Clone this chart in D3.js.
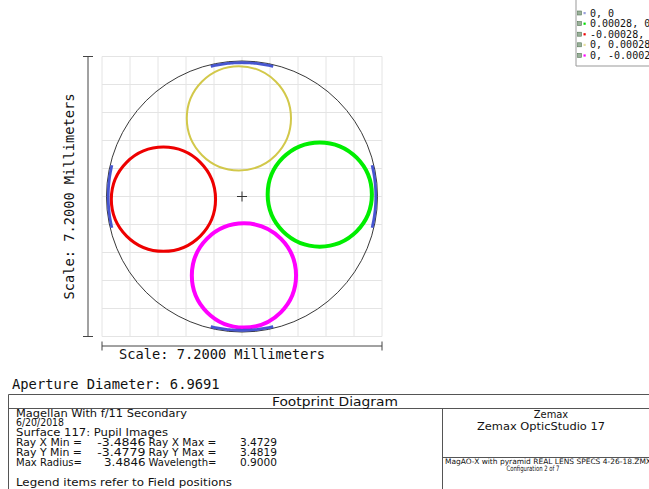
<!DOCTYPE html>
<html><head><meta charset="utf-8">
<script src="https://cdn.jsdelivr.net/npm/d3@7/dist/d3.min.js"></script>
<style>
html,body{margin:0;padding:0;background:#fff;}
svg{display:block;}
text{fill:#111;}
</style></head>
<body>
<svg id="c" width="649" height="489"></svg>
<script>
// ---- data ----
const fieldLabels = ["0, 0", "0.00028, 0", "-0.00028, 0", "0, 0.00028", "0, -0.00028"];
const fieldColors = ["#3344cc", "#00ee00", "#ee0000", "#d2c84a", "#ff00ff"];
const legendDotColors = ["#99a0dd", "#00dd00", "#ee0000", "#e8e0a0", "#ff00ff"];
// pupil footprint circles (mm) for the off-axis fields
const circleField = [1, 2, 3, 4];
const circleCx = [2.00, -2.02, -0.08, 0.05];
const circleCy = [0.05, -0.07, 2.01, -2.03];
const circleR = [1.34, 1.34, 1.34, 1.34];
const circleWidth = [4, 3, 2, 4];
// on-axis field footprint: short arcs near aperture edge (deg centre, half span)
const arcCentersDeg = [90, 0, 180, 270];
const arcHalfSpanDeg = [13.5, 13.5, 13.5, 13.5];
const arcRadius = 3.44;
const apertureRadius = 3.4846;
const scaleMm = 7.2;
const gridTicks = d3.range(-3.6, 3.61, 0.72);
const infoLeft = [
  "Magellan With f/11 Secondary",
  "6/20/2018",
  "Surface 117: Pupil Images"
];
const rayRows = [
  ["Ray X Min =", "-3.4846", "Ray X Max =", "3.4729"],
  ["Ray Y Min =", "-3.4779", "Ray Y Max =", "3.4819"],
  ["Max Radius=", "3.4846", "Wavelength=", "0.9000"]
];

const svg = d3.select("#c");
const cx0 = 242, cy0 = 196.5, half = 140;
const x = d3.scaleLinear().domain([-3.6, 3.6]).range([cx0 - half, cx0 + half]);
const y = d3.scaleLinear().domain([-3.6, 3.6]).range([cy0 + half, cy0 - half]);
const mono = "'DejaVu Sans Mono', monospace";
const cond = "'DejaVu Sans Condensed','DejaVu Sans', sans-serif";

// grid
const g = svg.append("g");
g.selectAll("line.v").data(gridTicks).join("line")
  .attr("x1", d => x(d)).attr("x2", d => x(d))
  .attr("y1", y(3.6)).attr("y2", y(-3.6))
  .attr("stroke", "#e4e4e4").attr("stroke-width", 1);
g.selectAll("line.h").data(gridTicks).join("line")
  .attr("y1", d => y(d)).attr("y2", d => y(d))
  .attr("x1", x(-3.6)).attr("x2", x(3.6))
  .attr("stroke", "#e4e4e4").attr("stroke-width", 1);

// aperture
g.append("circle").attr("cx", x(0)).attr("cy", y(0))
  .attr("r", x(apertureRadius) - x(0))
  .attr("fill", "none").attr("stroke", "#222").attr("stroke-width", 0.9);

// field circles
g.selectAll("circle.f").data(circleField).join("circle")
  .attr("cx", (d, i) => x(circleCx[i])).attr("cy", (d, i) => y(circleCy[i]))
  .attr("r", (d, i) => x(circleR[i]) - x(0))
  .attr("fill", "none")
  .attr("stroke", d => fieldColors[d])
  .attr("stroke-width", (d, i) => circleWidth[i]);

// on-axis arcs
const line = d3.line().x(d => x(arcRadius * Math.cos(d))).y(d => y(arcRadius * Math.sin(d)));
arcCentersDeg.forEach((c, i) => {
  const a0 = (c - arcHalfSpanDeg[i]) * Math.PI / 180, a1 = (c + arcHalfSpanDeg[i]) * Math.PI / 180;
  const pts = d3.range(0, 41).map(k => a0 + (a1 - a0) * k / 40);
  g.append("path").attr("d", line(pts)).attr("fill", "none")
    .attr("stroke", fieldColors[0]).attr("stroke-width", 2.8).attr("stroke-opacity", 0.9);
});

// centre cross
g.append("path").attr("d", `M${x(0)-5},${y(0)}H${x(0)+5}M${x(0)},${y(0)-5}V${y(0)+5}`)
  .attr("stroke", "#333").attr("stroke-width", 1);

// scale bars
const bar = svg.append("g").attr("stroke", "#444").attr("stroke-width", 1).attr("fill", "none");
bar.append("path").attr("d", `M${x(-3.6)},346H${x(3.6)}M${x(-3.6)},341.5V350.5M${x(3.6)},341.5V350.5`);
bar.append("path").attr("d", `M88,${y(3.6)}V${y(-3.6)}M83,${y(3.6)}H93M83,${y(-3.6)}H93`);
svg.append("text").attr("x", 119).attr("y", 359).attr("font-family", mono).attr("font-size", 13.7)
  .text(`Scale: ${scaleMm.toFixed(4)} Millimeters`);
svg.append("text").attr("transform", `translate(74,${cy0}) rotate(-90)`).attr("text-anchor", "middle")
  .attr("font-family", mono).attr("font-size", 13.7).text(`Scale: ${scaleMm.toFixed(4)} Millimeters`);
svg.append("text").attr("x", 12).attr("y", 389).attr("font-family", mono).attr("font-size", 13.8)
  .text(`Aperture Diameter: ${(apertureRadius * 2 - 0.0001).toFixed(4)}`);

// legend
const lg = svg.append("g");
lg.append("path").attr("d", "M576,-1V66H650").attr("fill", "none").attr("stroke", "#999");
fieldLabels.forEach((lab, i) => {
  const yy = 13 + i * 10.6;
  lg.append("rect").attr("x", 577.5).attr("y", yy - 2).attr("width", 4).attr("height", 4)
    .attr("fill", "#9ab09a").attr("stroke", "#557755").attr("stroke-width", 0.6);
  lg.append("rect").attr("x", 583.5).attr("y", yy - 1).attr("width", 2.2).attr("height", 2.2)
    .attr("fill", legendDotColors[i]);
  lg.append("text").attr("x", 590).attr("y", yy + 3.6).attr("font-family", mono).attr("font-size", 10)
    .text(lab);
});

// bottom panel
const p = svg.append("g").attr("stroke", "#555").attr("stroke-width", 1).attr("fill", "none");
p.append("path").attr("d", "M8.5,490V394.5H650M8.5,408.5H650M442.5,408.5V490M442.5,457.5H650");
svg.append("text").attr("x", 335).attr("y", 405.5).attr("text-anchor", "middle")
  .attr("font-family", cond).attr("font-size", 13).attr("textLength", 126).attr("lengthAdjust", "spacingAndGlyphs")
  .text("Footprint Diagram");

const fs = 10.4;
const dy = 9.9;
const y0 = 416.5;
const lw = [171, 48, 152];
function tx(t, xx, yy, w, anchor) {
  const el = svg.append("text").attr("x", xx).attr("y", yy).attr("font-family", cond).attr("font-size", fs)
    .attr("text-anchor", anchor || "start").text(t);
  if (w) el.attr("textLength", w).attr("lengthAdjust", "spacingAndGlyphs");
  return el;
}
infoLeft.forEach((t, i) => tx(t, 16, y0 + i * dy, lw[i]));
rayRows.forEach((r, i) => {
  const yy = y0 + (i + 3) * dy;
  tx(r[0], 16, yy, 66);
  const vw = r[1].length * 6.9;
  tx(r[1], 145.5 - vw, yy, vw);
  tx(r[2], 148.5, yy, 68);
  tx(r[3], 240, yy, 37);
});
tx("Legend items refer to Field positions", 16, y0 + 7 * dy, 216);

svg.append("text").attr("x", 551).attr("y", 418).attr("text-anchor", "middle").attr("font-family", cond).attr("font-size", 11).text("Zemax");
svg.append("text").attr("x", 541).attr("y", 429.5).attr("text-anchor", "middle").attr("font-family", cond).attr("font-size", 11)
  .attr("textLength", 128).attr("lengthAdjust", "spacingAndGlyphs").text("Zemax OpticStudio 17");
svg.append("text").attr("x", 445).attr("y", 463.5).attr("font-family", cond).attr("font-size", 7.4)
  .attr("textLength", 206).attr("lengthAdjust", "spacingAndGlyphs")
  .text("MagAO-X with pyramid REAL LENS SPECS 4-26-18.ZMX");
svg.append("text").attr("x", 533).attr("y", 471).attr("text-anchor", "middle").attr("font-family", cond).attr("font-size", 7.4)
  .attr("textLength", 53).attr("lengthAdjust", "spacingAndGlyphs")
  .text("Configuration 2 of 7");
</script>
</body></html>
